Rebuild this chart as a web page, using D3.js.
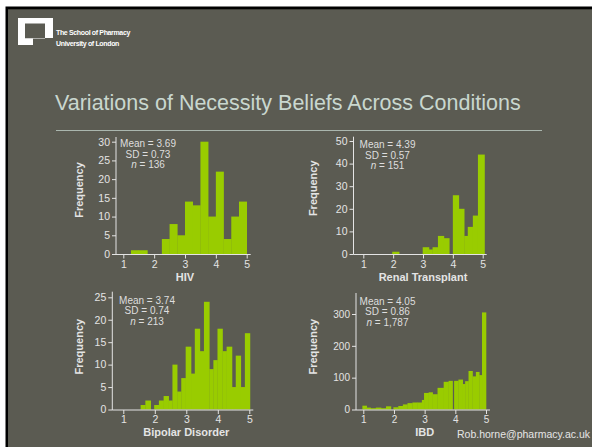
<!DOCTYPE html>
<html><head><meta charset="utf-8">
<script src="https://cdn.jsdelivr.net/npm/d3@7"></script>
<style>
body{margin:0;background:#fff;overflow:hidden}
svg{display:block}
text{font-family:"Liberation Sans",Arial,Helvetica,sans-serif}
</style>
</head><body>
<script>
// ---------------- DATA ----------------
const xTickValues = [1, 2, 3, 4, 5];

// HIV
const hivLo    = [1.25, 1.5, 2.25, 2.5, 2.75, 3.0, 3.25, 3.5, 3.75, 4.0, 4.25, 4.5, 4.75];
const hivHi    = [1.5, 1.78, 2.5, 2.75, 3.0, 3.25, 3.5, 3.75, 4.0, 4.25, 4.5, 4.75, 5.0];
const hivCount = [1, 1, 4, 8, 5, 14, 13, 30, 10, 22, 4, 10, 14];
const hivYTicks = [0, 5, 10, 15, 20, 25, 30];
const hivStats = ["Mean = 3.69", "SD = 0.73", "136"];

// Renal Transplant
const renalLo    = [1.97, 2.99, 3.2, 3.32, 3.5, 3.7, 4.0, 4.2, 4.38, 4.5, 4.67, 4.84];
const renalHi    = [2.2, 3.2, 3.32, 3.5, 3.7, 3.88, 4.2, 4.38, 4.5, 4.67, 4.84, 5.06];
const renalCount = [1, 3, 2, 3, 8, 7, 26, 20, 8, 12, 17, 44];
const renalYTicks = [0, 10, 20, 30, 40, 50];
const renalStats = ["Mean = 4.39", "SD = 0.57", "151"];

// Bipolar Disorder
const bipolarLo    = [1.55, 1.7, 1.98, 2.13, 2.28, 2.44, 2.56, 2.71, 2.84, 2.98, 3.15, 3.27, 3.43, 3.56, 3.73, 3.86, 3.99, 4.15, 4.28, 4.45, 4.57, 4.73, 4.86];
const bipolarHi    = [1.7, 1.87, 2.13, 2.28, 2.44, 2.56, 2.71, 2.84, 2.98, 3.15, 3.27, 3.43, 3.56, 3.73, 3.86, 3.99, 4.15, 4.28, 4.45, 4.57, 4.73, 4.86, 5.02];
const bipolarCount = [1, 2, 1, 2, 3, 2, 10, 4, 7, 14, 8, 18, 13, 24, 9, 11, 18, 13, 14, 5, 12, 5, 17];
const bipolarYTicks = [0, 5, 10, 15, 20, 25];
const bipolarStats = ["Mean = 3.74", "SD = 0.74", "213"];

// IBD
const ibdLo    = [0.97, 1.11, 1.24, 1.41, 1.58, 1.74, 1.98, 2.14, 2.29, 2.44, 2.60, 2.77, 2.91, 2.98, 3.13, 3.26, 3.42, 3.62, 3.78, 3.96, 4.10, 4.24, 4.32, 4.43, 4.56, 4.67, 4.78, 4.87];
const ibdHi    = [1.11, 1.24, 1.41, 1.58, 1.74, 1.90, 2.14, 2.29, 2.44, 2.60, 2.77, 2.91, 2.98, 3.13, 3.26, 3.42, 3.62, 3.78, 3.91, 4.10, 4.24, 4.32, 4.43, 4.56, 4.67, 4.78, 4.87, 5.0];
const ibdCount = [12, 6, 4, 6, 4, 10, 7, 11, 16, 20, 22, 22, 30, 52, 54, 48, 68, 87, 90, 90, 94, 80, 89, 121, 104, 118, 108, 305];
const ibdYTicks = [0, 100, 200, 300];
const ibdStats = ["Mean = 4.05", "SD = 0.86", "1,787"];

const titleText = "Variations of Necessity Beliefs Across Conditions";
const footerText = "Rob.horne@pharmacy.ac.uk";
const logoLines = ["The School of Pharmacy", "University of London"];

// ---------------- LAYOUT ----------------
const W = 592, H = 447;
const BG = "#5b5b52", BAR = "#99cc00", INK = "#e4e4e4";

const svg = d3.select("body").append("svg").attr("width", W).attr("height", H);
svg.append("rect").attr("width", W).attr("height", H).attr("fill", "#fff");
svg.append("rect").attr("x", 5.5).attr("y", 6.5).attr("width", W).attr("height", H).attr("fill", "#000");
svg.append("rect").attr("x", 8).attr("y", 9.3).attr("width", W).attr("height", H).attr("fill", BG);

// logo
svg.append("path")
  .attr("d", "M18,18 H53 V38 H45 V23.5 H25 V38.5 H33 V45 H18 Z")
  .attr("fill", "#fff");
svg.append("path").attr("d","M25,38.5 H45 V38 H25 Z").attr("fill","#fff");
logoLines.forEach((t, i) => {
  svg.append("text").attr("x", 56).attr("y", 35 + i * 10.5)
    .attr("font-size", 7).attr("font-weight", "bold").attr("fill", "#fff")
    .attr("letter-spacing", -0.35).text(t);
});

// title
svg.append("text").attr("x", 55).attr("y", 110)
  .attr("font-size", 21.5).attr("fill", "#c9d7cf").text(titleText);
svg.append("line").attr("x1", 56).attr("x2", 542).attr("y1", 130.5).attr("y2", 130.5)
  .attr("stroke", "#aab6ae").attr("stroke-width", 1.2);

// footer
svg.append("text").attr("x", 457).attr("y", 438)
  .attr("font-size", 10.5).attr("fill", "#e6e6e6").text(footerText);

const panels = [
  {lo: hivLo, hi: hivHi, cnt: hivCount, yTicks: hivYTicks, stats: hivStats, label: "HIV",
   axisX: 116, xL: 123.3, xR: 246.7, y0: 254, yTopPx: 141.7, axisTop: 137,
   statX: 148, statY: 147.2, fX: 83.3, fY: 190, xLabY: 281, tickFont: 10.5},
  {lo: renalLo, hi: renalHi, cnt: renalCount, yTicks: renalYTicks, stats: renalStats, label: "Renal Transplant",
   axisX: 353.5, xL: 363.3, xR: 482.7, y0: 254, yTopPx: 141, axisTop: 136.7,
   statX: 387.5, statY: 148.2, fX: 316.7, fY: 188.3, xLabY: 281, tickFont: 10.5},
  {lo: bipolarLo, hi: bipolarHi, cnt: bipolarCount, yTicks: bipolarYTicks, stats: bipolarStats, label: "Bipolar Disorder",
   axisX: 112.3, xL: 123.3, xR: 249.3, y0: 409.5, yTopPx: 297.3, axisTop: 291.7,
   statX: 147, statY: 303.8, fX: 83.3, fY: 346.7, xLabY: 435.7, tickFont: 10.5},
  {lo: ibdLo, hi: ibdHi, cnt: ibdCount, yTicks: ibdYTicks, stats: ibdStats, label: "IBD",
   axisX: 356, xL: 363.3, xR: 486, y0: 409.5, yTopPx: 314, axisTop: 293,
   statX: 387.5, statY: 304.5, fX: 317.3, fY: 346.7, xLabY: 435.7, tickFont: 10}
];

panels.forEach(p => {
  const g = svg.append("g");
  const yMax = d3.max(p.yTicks);
  const x = d3.scaleLinear().domain([1, 5]).range([p.xL, p.xR]);
  const y = d3.scaleLinear().domain([0, yMax]).range([p.y0, p.yTopPx]);
  const bins = p.cnt.map((c, i) => ({lo: p.lo[i], hi: p.hi[i], c}));

  g.selectAll("rect.bar").data(bins).enter().append("rect")
    .attr("class", "bar")
    .attr("x", d => x(d.lo))
    .attr("width", d => x(d.hi) - x(d.lo) + 0.3)
    .attr("y", d => y(d.c))
    .attr("height", d => y(0) - y(d.c))
    .attr("fill", BAR);

  // y axis
  const ya = g.append("g").attr("transform", `translate(${p.axisX},0)`)
    .call(d3.axisLeft(y).tickValues(p.yTicks).tickSize(4).tickPadding(2).tickSizeOuter(0));
  ya.select(".domain").remove();
  ya.append("line").attr("x1", 0).attr("x2", 0).attr("y1", p.axisTop).attr("y2", p.y0 + 0.5)
    .attr("stroke", INK);

  // x axis
  const xa = g.append("g").attr("transform", `translate(0,${p.y0 + 0.5})`)
    .call(d3.axisBottom(x).tickValues(xTickValues).tickFormat(d3.format("d")).tickSize(4).tickPadding(2).tickSizeOuter(0));
  xa.select(".domain").remove();
  xa.append("line").attr("x1", p.axisX).attr("x2", p.xR + 4).attr("y1", 0).attr("y2", 0)
    .attr("stroke", INK);

  [ya, xa].forEach(a => {
    a.selectAll(".tick line").attr("stroke", INK);
    a.selectAll(".tick text").attr("fill", INK).attr("font-size", p.tickFont)
      .attr("font-family", '"Liberation Sans",Arial,sans-serif');
  });

  // stats box text
  const st = g.append("text").attr("fill", "#dedede").attr("font-size", 10).attr("text-anchor", "middle");
  st.append("tspan").attr("x", p.statX).attr("y", p.statY).text(p.stats[0]);
  st.append("tspan").attr("x", p.statX).attr("y", p.statY + 10.6).text(p.stats[1]);
  const l3 = g.append("text").attr("fill", "#dedede").attr("font-size", 10).attr("text-anchor", "middle")
    .attr("x", p.statX).attr("y", p.statY + 21.2);
  l3.append("tspan").attr("font-style", "italic").text("n");
  l3.append("tspan").text(" = " + p.stats[2]);

  // axis titles
  g.append("text").attr("transform", `translate(${p.fX},${p.fY}) rotate(-90)`)
    .attr("text-anchor", "middle").attr("font-size", 11).attr("font-weight", "bold")
    .attr("fill", INK).text("Frequency");
  g.append("text").attr("x", (p.xL + p.xR) / 2).attr("y", p.xLabY)
    .attr("text-anchor", "middle").attr("font-size", 11).attr("font-weight", "bold")
    .attr("fill", INK).text(p.label);
});
</script>
</body></html>
